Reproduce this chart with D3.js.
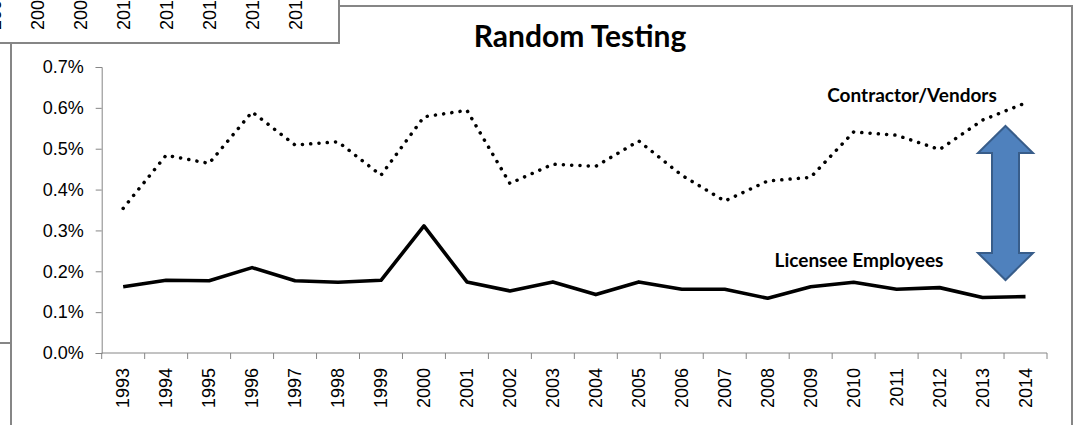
<!DOCTYPE html>
<html>
<head>
<meta charset="utf-8">
<script src="https://cdn.jsdelivr.net/npm/d3@7"></script>
<style>
  html, body { margin: 0; padding: 0; background: #fff; }
  svg { display: block; }
  .tick text { font-family: "Liberation Sans", Arial, sans-serif; font-size: 18px; fill: #000; }
</style>
</head>
<body>
<div id="chart"></div>
<script>
// data (percent of tests that were positive)
const years = ["1993","1994","1995","1996","1997","1998","1999","2000","2001","2002","2003",
               "2004","2005","2006","2007","2008","2009","2010","2011","2012","2013","2014"];
const contractorVendors = [0.354,0.484,0.464,0.590,0.509,0.517,0.435,0.578,0.594,0.415,0.462,
                           0.457,0.519,0.435,0.372,0.421,0.430,0.541,0.533,0.498,0.570,0.612];
const licenseeEmployees = [0.162,0.178,0.177,0.209,0.177,0.173,0.178,0.311,0.174,0.152,0.174,
                           0.143,0.174,0.156,0.156,0.134,0.162,0.173,0.156,0.160,0.136,0.138];
const yTicks = [0, 0.1, 0.2, 0.3, 0.4, 0.5, 0.6, 0.7];
// labels of the chart partly hidden behind, top left
const behindYears = ["2007","2008","2009","2010","2011","2012","2013","2014"];

const W = 1074, H = 425;
const svg = d3.select("#chart").append("svg").attr("width", W).attr("height", H);
const frame = "#868686";

// main chart frame
svg.append("rect").attr("x", 11).attr("y", 6).attr("width", 1061).attr("height", 440)
  .attr("fill", "#fff").attr("stroke", frame).attr("stroke-width", 2);
// bit of another frame at left edge
svg.append("line").attr("x1", 0).attr("x2", 11).attr("y1", 343).attr("y2", 343)
  .attr("stroke", frame).attr("stroke-width", 2);

const x = d3.scaleBand().domain(years).range([101.7, 1047]).padding(0);
const y = d3.scaleLinear().domain([0, 0.7]).range([353, 67]);
const cx = d => x(d) + x.bandwidth() / 2;

// y axis
const yAxis = svg.append("g").attr("transform", "translate(101.7,0)")
  .call(d3.axisLeft(y).tickValues(yTicks).tickFormat(d => d.toFixed(1) + "%").tickSize(6).tickPadding(12));
yAxis.select(".domain").attr("stroke", frame);
yAxis.selectAll(".tick line").attr("stroke", frame);

// x axis (ticks sit between the categories)
const xAxis = svg.append("g").attr("transform", "translate(0,353)");
xAxis.append("line").attr("x1", x.range()[0]).attr("x2", x.range()[1]).attr("stroke", frame);
xAxis.selectAll("line.tk").data(years.concat(["end"])).join("line").attr("class", "tk")
  .attr("x1", (d, i) => x.range()[0] + i * x.step()).attr("x2", (d, i) => x.range()[0] + i * x.step())
  .attr("y1", 0).attr("y2", 6).attr("stroke", frame);
xAxis.selectAll("text").data(years).join("text")
  .attr("transform", d => `translate(${cx(d)},15) rotate(-90)`)
  .attr("dy", "0.35em").attr("text-anchor", "end")
  .style("font-family", "'Liberation Sans', Arial, sans-serif").style("font-size", "18px")
  .text(d => d);

// lines
const line = d3.line().x((d, i) => cx(years[i])).y(d => y(d));
svg.append("path").datum(contractorVendors).attr("d", line)
  .attr("fill", "none").attr("stroke", "#000").attr("stroke-width", 3.5)
  .attr("stroke-linecap", "round").attr("stroke-dasharray", "0.1 8.2");
svg.append("path").datum(licenseeEmployees).attr("d", line)
  .attr("fill", "none").attr("stroke", "#000").attr("stroke-width", 3.6)
  .attr("stroke-linejoin", "round");

// title
svg.append("text").attr("x", 580).attr("y", 47).attr("text-anchor", "middle")
  .style("font-family", "Lato, 'Open Sans', sans-serif").style("font-weight", "bold").style("font-size", "30px")
  .text("Random Testing");

// series labels
const lbl = (t, xx, yy) => svg.append("text").attr("x", xx).attr("y", yy).attr("text-anchor", "middle")
  .style("font-family", "Lato, 'Open Sans', sans-serif").style("font-weight", "bold").style("font-size", "19px")
  .text(t);
lbl("Contractor/Vendors", 912, 102);
lbl("Licensee Employees", 859, 267);

// double arrow between the two series
const ax = 1005.5, arrTop = 126, arrBot = 280, hw = 27.5, sw = 13.5, hh = 27;
const arrow = d3.path();
arrow.moveTo(ax, arrTop);
arrow.lineTo(ax + hw, arrTop + hh); arrow.lineTo(ax + sw, arrTop + hh);
arrow.lineTo(ax + sw, arrBot - hh); arrow.lineTo(ax + hw, arrBot - hh);
arrow.lineTo(ax, arrBot);
arrow.lineTo(ax - hw, arrBot - hh); arrow.lineTo(ax - sw, arrBot - hh);
arrow.lineTo(ax - sw, arrTop + hh); arrow.lineTo(ax - hw, arrTop + hh);
arrow.closePath();
svg.append("path").attr("d", arrow.toString())
  .attr("fill", "#4F81BD").attr("stroke", "#385D8A").attr("stroke-width", 2);

// the chart overlapping at top left
const behind = svg.append("g");
behind.append("rect").attr("x", -5).attr("y", -5).attr("width", 344).attr("height", 48)
  .attr("fill", "#fff").attr("stroke", frame).attr("stroke-width", 2);
behind.selectAll("text").data(behindYears).join("text")
  .attr("transform", (d, i) => `translate(${-5 + i * 43},30) rotate(-90)`)
  .attr("dy", "0.35em").attr("text-anchor", "start")
  .style("font-family", "'Liberation Sans', Arial, sans-serif").style("font-size", "18px")
  .text(d => d);
</script>
</body>
</html>
